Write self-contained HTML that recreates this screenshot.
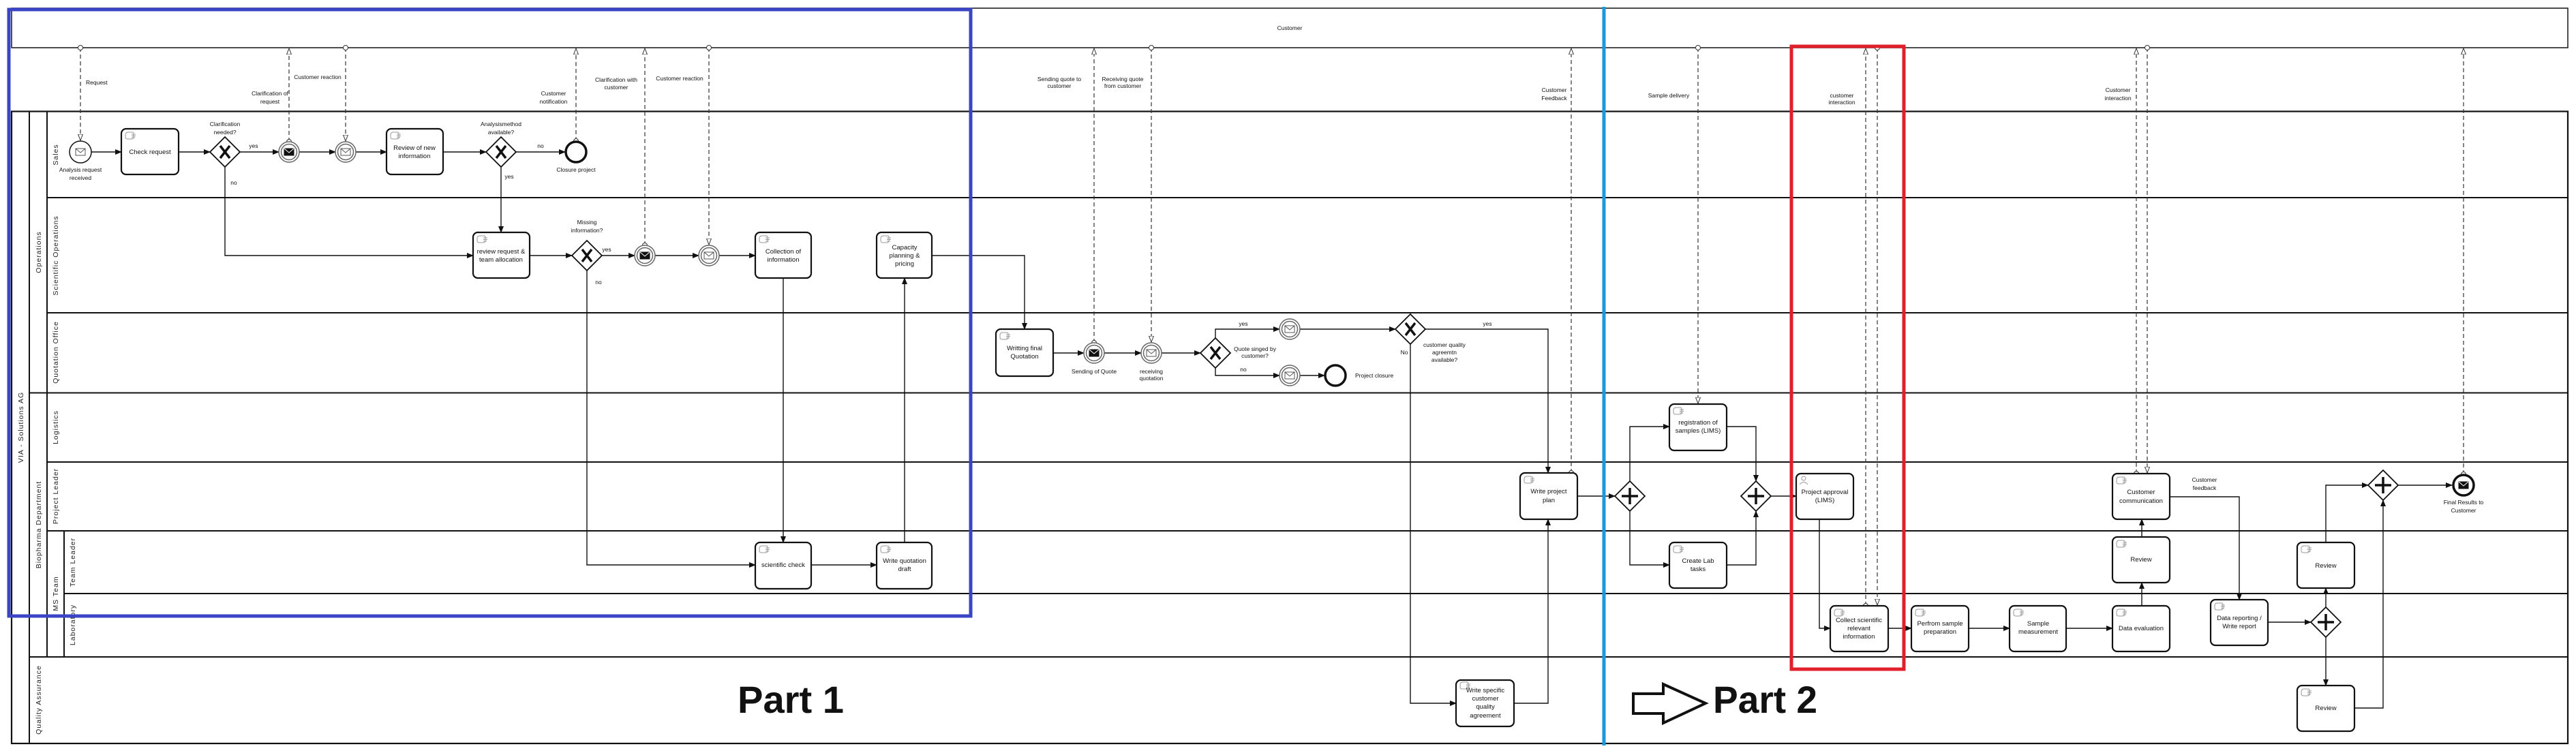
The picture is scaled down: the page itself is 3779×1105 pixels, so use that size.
<!DOCTYPE html>
<html><head><meta charset="utf-8"><style>
html,body{margin:0;padding:0;background:#fff}
svg{display:block}
text{font-family:"Liberation Sans",sans-serif;fill:#111}
.t{font-size:9.5px;text-anchor:middle}
.m{font-size:8.5px;text-anchor:middle}
.lane{font-size:10.5px;letter-spacing:1px;text-anchor:middle;fill:#222}
.task{fill:#fff;stroke:#111;stroke-width:2.2}
.ic{fill:none;stroke:#999;stroke-width:1}
.sf{fill:none;stroke:#111;stroke-width:1.4}
.mf{fill:none;stroke:#333;stroke-width:1.2;stroke-dasharray:6,4}
.ln{stroke:#111;stroke-width:2}
.gw{fill:#fff;stroke:#111;stroke-width:1.8}
.gx{stroke:#111;stroke-width:3.5}
</style></head><body>
<svg width="3779" height="1105" viewBox="0 0 3779 1105" xmlns="http://www.w3.org/2000/svg">
<defs>
<marker id="a" markerWidth="10" markerHeight="10" refX="9" refY="5" orient="auto" markerUnits="userSpaceOnUse"><path d="M0,1 L10,5 L0,9 z" fill="#111"/></marker>
<marker id="h" markerWidth="10" markerHeight="12" refX="9" refY="5" orient="auto" markerUnits="userSpaceOnUse"><path d="M0,1.5 L9,5 L0,8.5 z" fill="#fff" stroke="#333" stroke-width="1"/></marker>
<marker id="c" markerWidth="10" markerHeight="10" refX="5" refY="5" orient="auto" markerUnits="userSpaceOnUse"><circle cx="5" cy="5" r="3.5" fill="#fff" stroke="#333" stroke-width="1"/></marker>
<g id="env"><rect x="-7" y="-5" width="14" height="10" fill="#fff" stroke="#555" stroke-width="1"/><polyline points="-7,-5 0,1 7,-5" fill="none" stroke="#555" stroke-width="1"/></g>
<g id="envb"><rect x="-7" y="-5" width="14" height="10" fill="#111" stroke="#111" stroke-width="1"/><polyline points="-7,-5 0,1 7,-5" fill="none" stroke="#fff" stroke-width="1"/></g>
<g id="ithrow"><circle r="15" fill="#fff" stroke="#666" stroke-width="1.5"/><circle r="11.5" fill="#fff" stroke="#666" stroke-width="1.5"/><use href="#envb"/></g>
<g id="icatch"><circle r="15" fill="#fff" stroke="#666" stroke-width="1.5"/><circle r="11.5" fill="#fff" stroke="#666" stroke-width="1.5"/><use href="#env"/></g>
<g id="gX"><path d="M0,-22 L22,0 L0,22 L-22,0 z" class="gw"/><path d="M-7,-9 L7,9 M7,-9 L-7,9" class="gx"/></g>
<g id="gP"><path d="M0,-22 L22,0 L0,22 L-22,0 z" class="gw"/><path d="M0,-12 L0,12 M-12,0 L12,0" class="gx" stroke-width="4"/></g>
<g id="hand"><path d="M0,2 q0,-4 4,-4 h6 q2,0 2,2 v5 q0,3 -3,3 h-6 q-3,0 -3,-3z M9,1 h6 M9,3.5 h6 M9,6 h5" class="ic"/></g>
</defs>

<!-- Customer pool -->
<rect x="17" y="12" width="3750" height="58" fill="#fff" stroke="#222" stroke-width="1.6"/>
<text x="1892" y="44" class="m" font-size="9">Customer</text>

<!-- Main pool -->
<rect x="17" y="163.5" width="3750" height="927.5" fill="none" stroke="#111" stroke-width="2.2"/>
<line x1="43" y1="163.5" x2="43" y2="1091" class="ln"/>
<line x1="69" y1="163.5" x2="69" y2="964" class="ln"/>
<line x1="94" y1="779" x2="94" y2="964" class="ln"/>
<line x1="69" y1="290" x2="3767" y2="290" class="ln"/>
<line x1="69" y1="459" x2="3767" y2="459" class="ln"/>
<line x1="43" y1="576.5" x2="3767" y2="576.5" class="ln"/>
<line x1="69" y1="678" x2="3767" y2="678" class="ln"/>
<line x1="69" y1="779" x2="3767" y2="779" class="ln"/>
<line x1="94" y1="871" x2="3767" y2="871" class="ln"/>
<line x1="43" y1="964" x2="3767" y2="964" class="ln"/>

<text class="lane" transform="translate(34,627) rotate(-90)">VIA - Solutions AG</text>
<text class="lane" transform="translate(60,370) rotate(-90)">Operations</text>
<text class="lane" transform="translate(60,770) rotate(-90)">Biopharma Department</text>
<text class="lane" transform="translate(60,1027) rotate(-90)">Quality Assurance</text>
<text class="lane" transform="translate(85,227) rotate(-90)">Sales</text>
<text class="lane" transform="translate(85,375) rotate(-90)">Scientific Operations</text>
<text class="lane" transform="translate(85,517) rotate(-90)">Quotation Office</text>
<text class="lane" transform="translate(85,627) rotate(-90)">Logistics</text>
<text class="lane" transform="translate(85,728) rotate(-90)">Project Leader</text>
<text class="lane" transform="translate(85,871) rotate(-90)">MS Team</text>
<text class="lane" transform="translate(110,825) rotate(-90)">Team Leader</text>
<text class="lane" transform="translate(110,917) rotate(-90)">Laboratory</text>

<!-- Message flows -->
<g class="mf" marker-start="url(#c)" marker-end="url(#h)">
<path d="M118,70 V206"/>
<path d="M424,208 V71"/>
<path d="M507,70 V207"/>
<path d="M845,207 V71"/>
<path d="M946,360 V71"/>
<path d="M1040,70 V359"/>
<path d="M1605,503 V71"/>
<path d="M1689,70 V502"/>
<path d="M2305,694 V71"/>
<path d="M2491,70 V592"/>
<path d="M2737,889 V71"/>
<path d="M2754,70 V888"/>
<path d="M3134,695 V71"/>
<path d="M3150,70 V694"/>
<path d="M3614,696 V71"/>
</g>
<g class="m">
<text x="126" y="124" text-anchor="start">Request</text>
<text x="396" y="140">Clarification of</text><text x="396" y="152">request</text>
<text x="466" y="116">Customer reaction</text>
<text x="812" y="140">Customer</text><text x="812" y="152">notification</text>
<text x="904" y="120">Clarification with</text><text x="904" y="131">customer</text>
<text x="997" y="118">Customer reaction</text>
<text x="1554" y="119">Sending quote to</text><text x="1554" y="129">customer</text>
<text x="1647" y="119">Receiving quote</text><text x="1647" y="129">from customer</text>
<text x="2280" y="135">Customer</text><text x="2280" y="147">Feedback</text>
<text x="2448" y="143">Sample delivery</text>
<text x="2702" y="143">customer</text><text x="2702" y="153">interaction</text>
<text x="3107" y="135">Customer</text><text x="3107" y="147">interaction</text>
</g>

<!-- Sequence flows -->
<g class="sf" marker-end="url(#a)">
<path d="M134,223 H178"/><path d="M262,223 H308"/><path d="M352,223 H409"/>
<path d="M439,223 H492"/><path d="M522,223 H567"/><path d="M650,223 H713"/>
<path d="M757,223 H829"/><path d="M330,245 V375 H694"/><path d="M735,245 V341"/>
<path d="M777,375 H839"/><path d="M883,375 H931"/><path d="M961,375 H1025"/>
<path d="M1055,375 H1108"/><path d="M1149,408 V796"/><path d="M861,397 V829 H1108"/>
<path d="M1190,829 H1286"/><path d="M1327,796 V408"/><path d="M1367,375 H1503 V483"/>
<path d="M1545,518 H1590"/><path d="M1620,518 H1674"/><path d="M1704,518 H1761"/>
<path d="M1783,496 V483 H1877"/><path d="M1783,540 V551 H1877"/><path d="M1907,551 H1943"/>
<path d="M1907,483 H2047"/><path d="M2091,483 H2271 V694"/><path d="M2069,505 V1032 H2136"/>
<path d="M2221,1032 H2271 V762"/><path d="M2314,728 H2369"/><path d="M2391,706 V626 H2449"/>
<path d="M2391,750 V829 H2449"/><path d="M2533,626 H2576 V706"/><path d="M2533,829 H2576 V750"/>
<path d="M2598,728 H2635"/><path d="M2669,762 V922 H2685"/><path d="M2770,922 H2804"/>
<path d="M2888,922 H2948"/><path d="M3031,922 H3099"/><path d="M3142,889 V855"/>
<path d="M3142,788 V762"/><path d="M3183,729 H3285 V880"/><path d="M3327,913 H3390"/>
<path d="M3412,891 V863"/><path d="M3412,935 V1006"/><path d="M3412,796 V712 H3474"/>
<path d="M3454,1039 H3496 V734"/><path d="M3518,712 H3597"/>
</g>
<g class="m">
<text x="372" y="217">yes</text><text x="343" y="271">no</text>
<text x="793" y="217">no</text><text x="747" y="262">yes</text>
<text x="890" y="369">yes</text><text x="878" y="417">no</text>
<text x="1824" y="478">yes</text><text x="1824" y="545">no</text>
<text x="2060" y="520">No</text><text x="2182" y="478">yes</text>
<text x="330" y="185">Clarification</text><text x="330" y="197">needed?</text>
<text x="735" y="185">Analysismethod</text><text x="735" y="197">available?</text>
<text x="861" y="329">Missing</text><text x="861" y="341">information?</text>
<text x="1841" y="515">Quote singed by</text><text x="1841" y="525">customer?</text>
<text x="2119" y="509">customer quality</text><text x="2119" y="520">agreemtn</text><text x="2119" y="531">available?</text>
<text x="1988" y="554" text-anchor="start">Project closure</text>
<text x="3234" y="707">Customer</text><text x="3234" y="719">feedback</text>
</g>

<!-- Events -->
<g transform="translate(118,223)"><circle r="16" fill="#fff" stroke="#111" stroke-width="1.5"/><use href="#env"/></g>
<text class="m" x="118" y="252">Analysis request</text><text class="m" x="118" y="264">received</text>
<use href="#ithrow" x="424" y="223"/>
<use href="#icatch" x="507" y="223"/>
<circle cx="845" cy="223" r="15" fill="#fff" stroke="#111" stroke-width="3.5"/>
<text class="m" x="845" y="252">Closure project</text>
<use href="#ithrow" x="946" y="375"/>
<use href="#icatch" x="1040" y="375"/>
<use href="#ithrow" x="1605" y="518"/>
<text class="m" x="1605" y="548">Sending of Quote</text>
<use href="#icatch" x="1689" y="518"/>
<text class="m" x="1689" y="548">receiving</text><text class="m" x="1689" y="558">quotation</text>
<use href="#icatch" x="1892" y="483"/>
<use href="#icatch" x="1892" y="551"/>
<circle cx="1959" cy="551" r="15" fill="#fff" stroke="#111" stroke-width="3.5"/>
<g transform="translate(3614,712)"><circle r="15" fill="#fff" stroke="#111" stroke-width="3.5"/><use href="#envb"/></g>
<text class="m" x="3614" y="740">Final Results to</text><text class="m" x="3614" y="752">Customer</text>

<!-- Gateways -->
<use href="#gX" x="330" y="223"/><use href="#gX" x="735" y="223"/><use href="#gX" x="861" y="375"/>
<use href="#gX" x="1783" y="518"/><use href="#gX" x="2069" y="483"/>
<use href="#gP" x="2391" y="728"/><use href="#gP" x="2576" y="728"/>
<use href="#gP" x="3412" y="913"/><use href="#gP" x="3496" y="712"/>

<!-- Tasks -->
<g>
<rect class="task" x="178" y="189" width="84" height="67" rx="7"/><use href="#hand" x="184" y="196"/>
<text class="t" x="220" y="226">Check request</text>
<rect class="task" x="567" y="189" width="83" height="67" rx="7"/><use href="#hand" x="573" y="196"/>
<text class="t" x="608" y="220">Review of new</text><text class="t" x="608" y="232">information</text>
<rect class="task" x="694" y="341" width="83" height="67" rx="7"/><use href="#hand" x="700" y="348"/>
<text class="t" x="735" y="372">review request &amp;</text><text class="t" x="735" y="384">team allocation</text>
<rect class="task" x="1108" y="341" width="82" height="67" rx="7"/><use href="#hand" x="1114" y="348"/>
<text class="t" x="1149" y="372">Collection of</text><text class="t" x="1149" y="384">information</text>
<rect class="task" x="1286" y="341" width="81" height="67" rx="7"/><use href="#hand" x="1292" y="348"/>
<text class="t" x="1327" y="366">Capacity</text><text class="t" x="1327" y="378">planning &amp;</text><text class="t" x="1327" y="390">pricing</text>
<rect class="task" x="1108" y="796" width="82" height="68" rx="7"/><use href="#hand" x="1114" y="803"/>
<text class="t" x="1149" y="832">scientific check</text>
<rect class="task" x="1286" y="796" width="81" height="68" rx="7"/><use href="#hand" x="1292" y="803"/>
<text class="t" x="1327" y="826">Write quotation</text><text class="t" x="1327" y="838">draft</text>
<rect class="task" x="1461" y="483" width="84" height="69" rx="7"/><use href="#hand" x="1467" y="490"/>
<text class="t" x="1503" y="514">Writting final</text><text class="t" x="1503" y="526">Quotation</text>
<rect class="task" x="2136" y="998" width="85" height="68" rx="7"/><use href="#hand" x="2142" y="1003"/>
<text class="t" x="2179" y="1016">Write specific</text><text class="t" x="2179" y="1028">customer</text><text class="t" x="2179" y="1040">quality</text><text class="t" x="2179" y="1053">agreement</text>
<rect class="task" x="2230" y="694" width="84" height="68" rx="7"/><use href="#hand" x="2236" y="701"/>
<text class="t" x="2272" y="724">Write project</text><text class="t" x="2272" y="737">plan</text>
<rect class="task" x="2449" y="593" width="84" height="68" rx="7"/><use href="#hand" x="2455" y="600"/>
<text class="t" x="2491" y="623">registration of</text><text class="t" x="2491" y="635">samples (LIMS)</text>
<rect class="task" x="2449" y="796" width="84" height="67" rx="7"/><use href="#hand" x="2455" y="803"/>
<text class="t" x="2491" y="826">Create Lab</text><text class="t" x="2491" y="838">tasks</text>
<rect class="task" x="2635" y="695" width="84" height="67" rx="7"/>
<circle cx="2646" cy="702" r="3" class="ic"/><path d="M2640,711 q6,-7 12,0" class="ic"/>
<text class="t" x="2677" y="725">Project approval</text><text class="t" x="2677" y="737">(LIMS)</text>
<rect class="task" x="2685" y="889" width="85" height="67" rx="7"/><use href="#hand" x="2691" y="896"/>
<text class="t" x="2727" y="913">Collect scientific</text><text class="t" x="2727" y="925">relevant</text><text class="t" x="2727" y="937">information</text>
<rect class="task" x="2804" y="889" width="84" height="67" rx="7"/><use href="#hand" x="2810" y="896"/>
<text class="t" x="2846" y="918">Perfrom sample</text><text class="t" x="2846" y="930">preparation</text>
<rect class="task" x="2948" y="889" width="83" height="67" rx="7"/><use href="#hand" x="2954" y="896"/>
<text class="t" x="2990" y="918">Sample</text><text class="t" x="2990" y="930">measurement</text>
<rect class="task" x="3099" y="889" width="84" height="67" rx="7"/><use href="#hand" x="3105" y="896"/>
<text class="t" x="3141" y="925">Data evaluation</text>
<rect class="task" x="3099" y="788" width="84" height="67" rx="7"/><use href="#hand" x="3105" y="795"/>
<text class="t" x="3141" y="824">Review</text>
<rect class="task" x="3099" y="695" width="84" height="67" rx="7"/><use href="#hand" x="3105" y="702"/>
<text class="t" x="3141" y="725">Customer</text><text class="t" x="3141" y="738">communication</text>
<rect class="task" x="3243" y="880" width="84" height="67" rx="7"/><use href="#hand" x="3249" y="887"/>
<text class="t" x="3285" y="910">Data reporting /</text><text class="t" x="3285" y="922">Write report</text>
<rect class="task" x="3370" y="796" width="84" height="67" rx="7"/><use href="#hand" x="3376" y="803"/>
<text class="t" x="3412" y="833">Review</text>
<rect class="task" x="3370" y="1006" width="84" height="67" rx="7"/><use href="#hand" x="3376" y="1013"/>
<text class="t" x="3412" y="1042">Review</text>
</g>

<!-- Part labels -->
<text x="1082" y="1046" font-size="56" font-weight="bold" textLength="156" lengthAdjust="spacingAndGlyphs">Part 1</text>
<path d="M2396,1018 H2440 V1004 L2502,1032 L2440,1061 V1047 H2396 z" fill="#fff" stroke="#111" stroke-width="4"/>
<text x="2513" y="1046" font-size="56" font-weight="bold" textLength="153" lengthAdjust="spacingAndGlyphs">Part 2</text>

<!-- Highlight boxes -->
<rect x="13" y="14" width="1411" height="890" fill="none" stroke="#3a44c6" stroke-width="5"/>
<line x1="2353" y1="10" x2="2353" y2="1094" stroke="#1a9ad6" stroke-width="5"/>
<rect x="2628" y="68" width="165" height="914" fill="none" stroke="#e0202a" stroke-width="5"/>
</svg>
</body></html>
